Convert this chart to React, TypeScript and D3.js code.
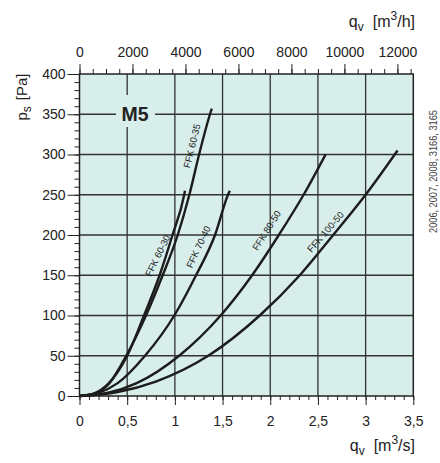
import * as d3 from "d3";
import React, { useEffect, useRef } from "react";

// flow q_v [m3/s] vs static pressure p_s [Pa]
const seriesNames = ["FFK 60-30", "FFK 60-35", "FFK 70-40", "FFK 80-50", "FFK 100-50"];

const ffk6030: [number, number][] = [
  [0, 0], [0.15, 3], [0.3, 15], [0.5, 50], [0.676, 100], [0.84, 150], [0.975, 200], [1.098, 250], [1.106, 255],
];
const ffk6035: [number, number][] = [
  [0, 0], [0.15, 3], [0.3, 14], [0.49, 50], [0.697, 100], [0.872, 150], [1.03, 200], [1.152, 250],
  [1.254, 300], [1.368, 350], [1.387, 357],
];
const ffk7040: [number, number][] = [
  [0, 0], [0.2, 4], [0.4, 16], [0.687, 50], [0.994, 100], [1.222, 150], [1.421, 200], [1.557, 250], [1.576, 255],
];
const ffk8050: [number, number][] = [
  [0, 0], [0.3, 4], [0.6, 16], [1.045, 50], [1.48, 100], [1.81, 150], [2.09, 200], [2.35, 250], [2.58, 300],
];
const ffk10050: [number, number][] = [
  [0, 0], [0.4, 5], [0.8, 18], [1.35, 50], [1.89, 100], [2.31, 150], [2.66, 200], [3.0, 250], [3.335, 305],
];
const seriesData = [ffk6030, ffk6035, ffk7040, ffk8050, ffk10050];

const xTicks = [0, 0.5, 1, 1.5, 2, 2.5, 3, 3.5];
const yTicks = [0, 50, 100, 150, 200, 250, 300, 350, 400];
const topTicks = [0, 2000, 4000, 6000, 8000, 10000, 12000];

// label anchor (in data units) and rotation for each curve label
const labelAt: [number, number, number][] = [
  [0.842, 173, 64],
  [1.203, 310, 76],
  [1.269, 184, 65],
  [1.982, 204, 58],
  [2.598, 202, 49],
];

const BG = "#d8eeeb";
const FONT = "'Liberation Sans', Arial, Helvetica, sans-serif";

const App: React.FC = () => {
  const svgRef = useRef<SVGSVGElement>(null);

  const x = d3.scaleLinear().domain([0, 3.5]).range([79.5, 413.3]);
  const xTop = d3.scaleLinear().domain([0, 3.5 * 3600]).range([79.5, 413.3]);
  const y = d3.scaleLinear().domain([0, 400]).range([396, 74]);

  const line = d3
    .line<[number, number]>()
    .x((d) => x(d[0]))
    .y((d) => y(d[1]))
    .curve(d3.curveMonotoneX);

  useEffect(() => {
    const svg = d3.select(svgRef.current);
    svg.selectAll(".axis").remove();

    const styleAxis = (g: d3.Selection<SVGGElement, unknown, null, undefined>) => {
      g.select(".domain").remove();
      g.selectAll("line").attr("stroke", "#222").attr("stroke-width", 1);
      g.selectAll("text")
        .attr("font-family", FONT)
        .attr("font-size", 14)
        .attr("fill", "#222");
    };

    // minor ticks
    svg.append("g").attr("class", "axis")
      .attr("transform", `translate(79.5,0)`)
      .call(d3.axisLeft(y).tickValues(d3.range(0, 401, 10)).tickSize(5).tickFormat(() => ""))
      .call(styleAxis);
    svg.append("g").attr("class", "axis")
      .attr("transform", `translate(0,396)`)
      .call(d3.axisBottom(x).tickValues(d3.range(0, 3.51, 0.1)).tickSize(4).tickFormat(() => ""))
      .call(styleAxis);
    svg.append("g").attr("class", "axis")
      .attr("transform", `translate(0,74)`)
      .call(d3.axisTop(xTop).tickValues(d3.range(0, 12600, 500)).tickSize(5).tickFormat(() => ""))
      .call(styleAxis);

    // major ticks + labels
    svg.append("g").attr("class", "axis")
      .attr("transform", `translate(79.5,0)`)
      .call(d3.axisLeft(y).tickValues(yTicks).tickSize(12).tickPadding(2).tickFormat((d) => String(d)))
      .call(styleAxis);
    svg.append("g").attr("class", "axis")
      .attr("transform", `translate(0,396)`)
      .call(
        d3.axisBottom(x).tickValues(xTicks).tickSize(9).tickPadding(11)
          .tickFormat((d) => String(d).replace(".", ","))
      )
      .call(styleAxis);
    svg.append("g").attr("class", "axis")
      .attr("transform", `translate(0,74)`)
      .call(d3.axisTop(xTop).tickValues(topTicks).tickSize(10).tickPadding(7).tickFormat((d) => String(d)))
      .call(styleAxis);
  }, []);

  return (
    <svg
      ref={svgRef}
      width={440}
      height={463}
      style={{ position: "absolute", left: 0, top: 0, background: "#fff" }}
      fontFamily={FONT}
    >
      <rect x={x(0)} y={y(400)} width={x(3.5) - x(0)} height={y(0) - y(400)} fill={BG} />

      {/* grid */}
      {xTicks.slice(1, -1).map((t) => (
        <line key={"gx" + t} x1={x(t)} x2={x(t)} y1={y(0)} y2={y(400)} stroke="#333" strokeWidth={1.3} />
      ))}
      {yTicks.slice(1, -1).map((t) => (
        <line key={"gy" + t} x1={x(0)} x2={x(3.5)} y1={y(t)} y2={y(t)} stroke="#333" strokeWidth={1.3} />
      ))}

      {/* M5 box */}
      <rect x={116} y={95} width={39} height={32} fill={BG} />
      <text x={135} y={120.7} textAnchor="middle" fontSize={19.5} fontWeight="bold" fill="#222">
        M5
      </text>

      {/* curves */}
      {seriesData.map((s, i) => (
        <path key={seriesNames[i]} d={line(s) || ""} fill="none" stroke="#1c1c1c" strokeWidth={2.4} />
      ))}

      {/* curve labels, nudged a little off their curves */}
      {seriesNames.map((n, i) => (
        <text
          key={"l" + n}
          transform={`translate(${x(labelAt[i][0])},${y(labelAt[i][1])}) rotate(${-labelAt[i][2]})`}
          textAnchor="middle"
          dy={1}
          fontSize={9.5}
          fill="#222"
        >
          {n}
        </text>
      ))}

      {/* frame */}
      <rect
        x={x(0)}
        y={y(400)}
        width={x(3.5) - x(0)}
        height={y(0) - y(400)}
        fill="none"
        stroke="#222"
        strokeWidth={1.5}
      />

      {/* axis titles */}
      <text x={415} y={27} textAnchor="end" fontSize={16} fill="#222">
        q<tspan dy={4} fontSize={12}>v</tspan>
        <tspan dy={-4} dx={9}>[m</tspan>
        <tspan dy={-7} fontSize={12}>3</tspan>
        <tspan dy={7}>/h]</tspan>
      </text>
      <text x={415} y={451} textAnchor="end" fontSize={16} fill="#222">
        q<tspan dy={4} fontSize={12}>v</tspan>
        <tspan dy={-4} dx={9}>[m</tspan>
        <tspan dy={-7} fontSize={12}>3</tspan>
        <tspan dy={7}>/s]</tspan>
      </text>
      <text transform="translate(27,97) rotate(-90)" textAnchor="middle" fontSize={15} fill="#222">
        p<tspan dy={4} fontSize={12}>s</tspan>
        <tspan dy={-4} dx={6}>[Pa]</tspan>
      </text>

      {/* reference numbers */}
      <text
        transform="translate(436.5,171.5) rotate(-90)"
        textAnchor="middle"
        fontSize={11}
        textLength={123}
        lengthAdjust="spacingAndGlyphs"
        fill="#444"
      >
        2006, 2007, 2008, 3166, 3165
      </text>
    </svg>
  );
};

export default App;
